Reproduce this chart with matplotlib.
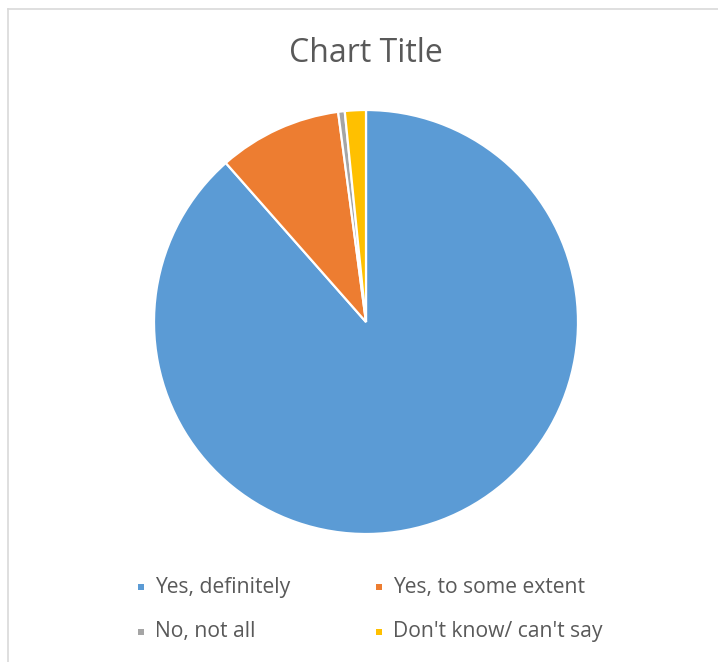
import matplotlib
matplotlib.use("Agg")
import matplotlib.pyplot as plt
from matplotlib.lines import Line2D
from matplotlib.patches import Rectangle

categories = ["Yes, definitely", "Yes, to some extent", "No, not all", "Don't know/ can't say"]
values = [88.5, 9.4, 0.5, 1.6]
colors = ["#5B9BD5", "#ED7D31", "#A5A5A5", "#FFC000"]
title = "Chart Title"

W, H = 718, 662
fig = plt.figure(figsize=(W / 100, H / 100), dpi=100)
fig.patch.set_facecolor("white")

# chart frame (left and top visible)
fig.add_artist(Line2D([8 / W, 8 / W], [0, 1 - 9 / H], color="#D9D9D9", lw=1.2))
fig.add_artist(Line2D([8 / W, 1], [1 - 9 / H, 1 - 9 / H], color="#D9D9D9", lw=1.2))

cx, cy, r = 366, 322, 212
ax = fig.add_axes([(cx - r) / W, (H - cy - r) / H, 2 * r / W, 2 * r / H])
ax.pie(values, colors=colors, startangle=90, counterclock=False, radius=1,
       wedgeprops=dict(edgecolor="white", linewidth=1.6))
ax.set_xlim(-1, 1)
ax.set_ylim(-1, 1)
ax.set_aspect("equal")
ax.axis("off")

fig.text(cx / W, 1 - 53 / H, title, ha="center", va="center",
         fontsize=23, color="#595959", family="Open Sans")

# legend
pos = [(155, 587), (393, 587), (155, 632), (393, 632)]
for (x, y), lab, col in zip(pos, categories, colors):
    fig.add_artist(Rectangle(((x - 17) / W, 1 - (y + 3) / H), 6 / W, 6 / H,
                             facecolor=col, edgecolor="none"))
    fig.text(x / W, 1 - y / H, lab, ha="left", va="center",
             fontsize=15.2, color="#595959", family="Open Sans")

fig.savefig("out.png", dpi=100, facecolor="white")
